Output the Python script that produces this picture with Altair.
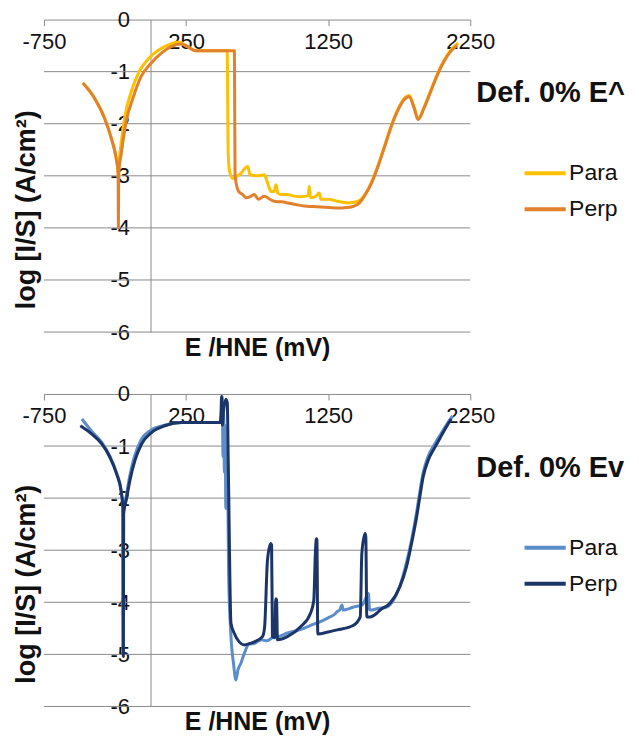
import altair as alt
import pandas as pd

FONT = "Liberation Sans"
W, H = 427, 313

# ---------------- data: top panel (Def. 0% E^) ----------------
top_para_E = [-476, -394, -324, -277, -242, -228, -226, -222, -210, -180, -135, -80, -10, 60, 130, 200, 250, 320,
              540, 543, 546, 555, 580, 610, 625, 684, 700, 760, 800, 824, 848, 870, 883, 895, 918, 960, 1011,
              1060, 1110, 1117, 1125, 1160, 1187, 1199, 1250, 1316, 1387, 1457, 1503, 1550, 1597, 1644, 1691,
              1738, 1784, 1820, 1855, 1883, 1925, 1972, 2019, 2066, 2112, 2165]
top_para_V = [-1.22, -1.51, -1.89, -2.27, -2.66, -2.95, -3.1, -2.8, -2.45, -1.85, -1.38, -1.0, -0.74, -0.58, -0.48,
              -0.43, -0.5, -0.6, -0.6, -1.5, -2.5, -2.9, -3.05, -3.0, -2.98, -2.82, -2.98, -3.0, -2.98, -3.14,
              -3.30, -3.3, -3.17, -3.33, -3.36, -3.36, -3.39, -3.40, -3.38, -3.20, -3.42, -3.40, -3.33, -3.45,
              -3.45, -3.49, -3.52, -3.49, -3.38, -3.15, -2.83, -2.45, -2.06, -1.74, -1.52, -1.46, -1.68, -1.90,
              -1.68, -1.36, -1.04, -0.78, -0.59, -0.45]

top_perp_E = [-476, -394, -324, -277, -242, -228, -226, -224, -207, -171, -124, -66, 4, 74, 145, 215, 260, 320,
              450, 590, 592, 595, 620, 649, 672, 700, 730, 760, 800, 840, 871, 920, 965, 1020, 1082, 1140, 1199,
              1260, 1316, 1380, 1433, 1470, 1503, 1550, 1597, 1644, 1691, 1738, 1784, 1820, 1855, 1883, 1925,
              1972, 2019, 2066, 2112, 2159]
top_perp_V = [-1.22, -1.51, -1.89, -2.27, -2.66, -2.95, -4.0, -2.95, -2.59, -1.95, -1.51, -1.09, -0.84, -0.65,
              -0.52, -0.47, -0.52, -0.6, -0.6, -0.6, -1.5, -3.0, -3.3, -3.36, -3.42, -3.40, -3.36, -3.45, -3.39,
              -3.45, -3.49, -3.50, -3.52, -3.55, -3.58, -3.59, -3.60, -3.61, -3.62, -3.61, -3.58, -3.52, -3.40,
              -3.17, -2.85, -2.47, -2.08, -1.76, -1.54, -1.48, -1.70, -1.92, -1.70, -1.38, -1.06, -0.80, -0.61,
              -0.49]

# ---------------- data: bottom panel (Def. 0% Ev) ----------------
bot_para_E = [-483, -413, -343, -285, -238, -208, -196, -194, -192, -170, -148, -115, -70, 0, 100, 217, 480, 500,
              505, 510, 515, 520, 525, 530, 540, 550, 565, 585, 601, 615, 636, 660, 694, 730, 780, 820, 869, 910,
              963, 1020, 1079, 1140, 1196, 1250, 1300, 1313, 1330, 1348, 1355, 1400, 1429, 1490, 1534, 1540,
              1545, 1600, 1662, 1700, 1755, 1800, 1837, 1872, 1895, 1918, 1953, 2000, 2047, 2093, 2125]
bot_para_V = [-0.48, -0.72, -0.93, -1.2, -1.52, -1.83, -2.2, -5.0, -2.3, -1.95, -1.6, -1.22, -0.9, -0.7, -0.6,
              -0.55, -0.55, -0.5, -0.05, -1.2, -0.4, -1.5, -0.6, -2.2, -1.0, -3.5, -4.6, -5.2, -5.49, -5.3, -5.17,
              -4.98, -4.8, -4.79, -4.72, -4.74, -4.66, -4.65, -4.59, -4.55, -4.50, -4.43, -4.37, -4.3, -4.22,
              -4.18, -4.15, -4.05, -4.15, -4.12, -4.09, -4.05, -3.83, -4.12, -4.15, -4.12, -4.09, -4.0, -3.68,
              -3.25, -2.8, -2.28, -1.88, -1.52, -1.2, -0.96, -0.75, -0.55, -0.42]

bot_perp_E = [-494, -413, -343, -285, -238, -208, -193, -191, -189, -168, -145, -110, -63, 7, 100, 217, 350, 490,
              497, 500, 505, 515, 530, 540, 548, 566, 590, 624, 660, 700, 730, 788, 803, 823, 846, 852, 858, 875,
              881, 887, 893, 963, 1056, 1126, 1149, 1160, 1167, 1171, 1177, 1250, 1313, 1429, 1476, 1487, 1510,
              1515, 1522, 1545, 1592, 1615, 1685, 1755, 1802, 1837, 1872, 1895, 1918, 1953, 2000, 2047, 2093,
              2117]
bot_perp_V = [-0.61, -0.77, -0.96, -1.22, -1.54, -1.85, -2.2, -5.04, -2.3, -2.0, -1.66, -1.28, -0.96, -0.74,
              -0.61, -0.55, -0.55, -0.55, -0.3, -0.05, -0.6, -0.3, -0.1, -0.17, -1.5, -4.4, -4.6, -4.76, -4.82,
              -4.79, -4.76, -4.66, -4.47, -3.19, -2.87, -2.9, -4.66, -4.68, -3.93, -3.95, -4.72, -4.66, -4.47,
              -4.21, -3.96, -3.06, -2.78, -2.8, -4.61, -4.57, -4.53, -4.44, -4.28, -3.06, -2.68, -2.75, -4.28,
              -4.28, -4.21, -4.15, -4.02, -3.70, -3.31, -2.87, -2.37, -1.98, -1.60, -1.28, -1.03, -0.80, -0.58,
              -0.48]

series_names = ["Para", "Perp"]
x_ticks = [-750, 250, 1250, 2250]
y_ticks = [0, -1, -2, -3, -4, -5, -6]
grid_levels = [-1, -2, -3, -4, -5, -6]
top_colors = ["#FFC000", "#E2812B"]
bot_colors = ["#5B8DCB", "#1B3568"]


def make_df(pairs):
    rows = []
    for name, (es, vs) in zip(series_names, pairs):
        for i, (e, v) in enumerate(zip(es, vs)):
            rows.append({"E": e, "V": v, "series": name, "idx": i})
    return pd.DataFrame(rows)


xscale = alt.Scale(domain=[-750, 2250], nice=False, zero=False)
yscale = alt.Scale(domain=[-6, 0], nice=False, zero=False)

x_axis = alt.Axis(
    orient="bottom", offset=-H, values=x_ticks, title="E /HNE (mV)", labelExpr="'' + datum.value",
    domainColor="#8a8a8a", tickColor="#8a8a8a", tickSize=6, labelPadding=6,
    labelFontSize=22, labelColor="#111", labelFont=FONT, labelFlush=False,
    titleFontSize=25, titleFontWeight="bold", titleColor="#111", titleFont=FONT,
    titleY=336, titleBaseline="alphabetic", grid=False)

y_axis = alt.Axis(
    orient="left", offset=-W * 750 / 3000, values=y_ticks, title="log [I/S] (A/cm²)",
    labelExpr="'' + datum.value",
    domainColor="#8a8a8a", ticks=False, labelPadding=21, labelFontSize=22,
    labelColor="#111", labelFont=FONT, grid=False,
    titleFontSize=27, titleFontWeight="bold", titleColor="#111", titleFont=FONT,
    titleAngle=270, titleX=-124, titleY=190, titleBaseline="middle", titleAlign="center")


def panel(df, colors, legend_title):
    grid = alt.Chart(pd.DataFrame({"V": grid_levels})).mark_rule(
        color="#8a8a8a", strokeWidth=1
    ).encode(
        y=alt.Y("V:Q", scale=yscale, axis=y_axis),
        x=alt.value(0), x2=alt.value(W),
    )
    lines = alt.Chart(df).mark_line(strokeWidth=3, strokeJoin="round", interpolate="monotone").encode(
        x=alt.X("E:Q", scale=xscale, axis=x_axis),
        y=alt.Y("V:Q", scale=yscale, axis=y_axis),
        color=alt.Color("series:N", scale=alt.Scale(domain=series_names, range=colors),
                        legend=alt.Legend(
                            title=legend_title, orient="none", legendX=433, legendY=60,
                            titleFontSize=29, titleFontWeight="bold", titleColor="#111", titleFont=FONT,
                            titlePadding=50, labelFontSize=23, labelColor="#111", labelFont=FONT,
                            labelOffset=1, symbolType="stroke", symbolSize=1700, symbolStrokeWidth=4,
                            symbolOffset=46, clipHeight=30, rowPadding=6)),
        order="idx:Q",
    )
    return alt.layer(grid, lines).properties(width=W, height=H)


top = panel(make_df([(top_para_E, top_para_V), (top_perp_E, top_perp_V)]), top_colors, "Def. 0% E^")
bot = panel(make_df([(bot_para_E, bot_para_V), (bot_perp_E, bot_perp_V)]), bot_colors, "Def. 0% Ev")

chart = alt.vconcat(top, bot, spacing=23).resolve_scale(color="independent").resolve_legend(
    color="independent"
).properties(padding={"left": 4, "top": 0, "right": 5, "bottom": 5}).configure_view(stroke=None)

chart.save("out.html", embed_options={"renderer": "svg", "actions": False})
